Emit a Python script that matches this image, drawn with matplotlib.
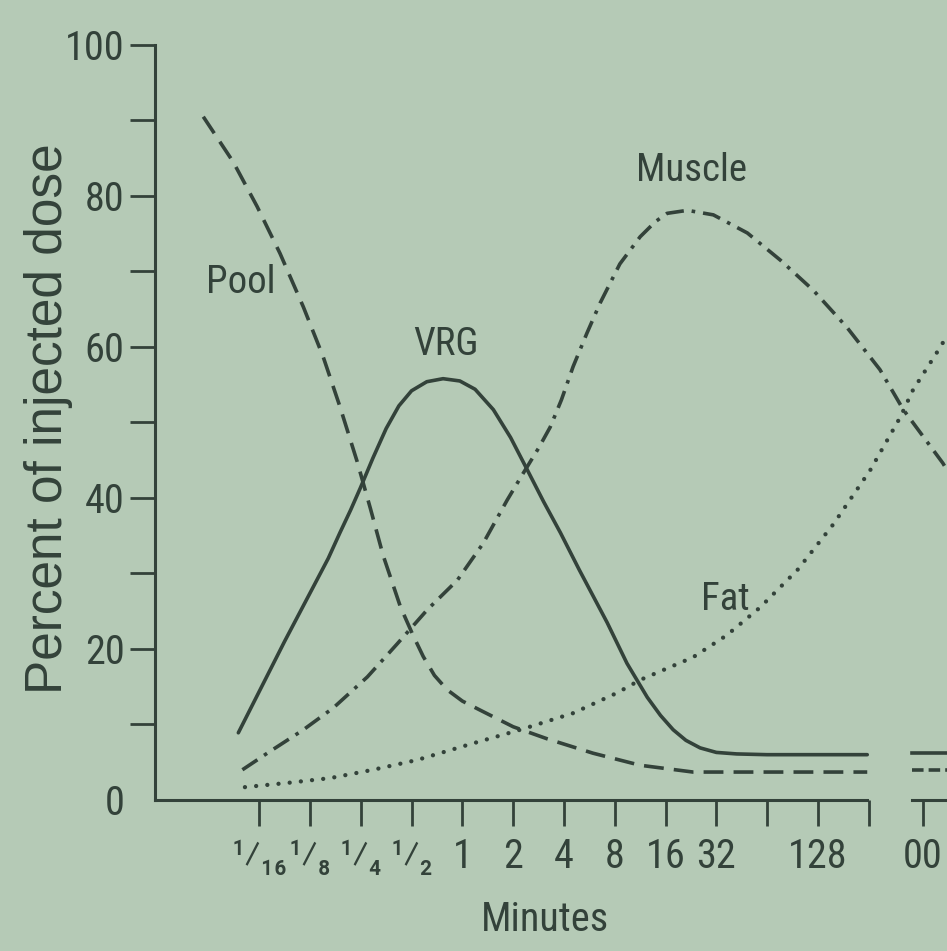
import matplotlib
matplotlib.use('Agg')
import matplotlib.pyplot as plt
import numpy as np

# condensed face if one is around, otherwise the Arial-like one
plt.rcParams['font.family'] = ['Liberation Sans Narrow', 'Roboto Condensed', 'Liberation Sans', 'DejaVu Sans']

bg = '#b5cab6'
ink = '#33423a'

# x positions are log2(minutes); 9.07 is the "00" slot after the axis break
tick_pos = [-4, -3, -2, -1, 0, 1, 2, 3, 4, 5, 6, 7, 8, 9.07]
tick_lbl = ['\u00b9\u2044\u2081\u2086', '\u00b9\u2044\u2088', '\u00b9\u2044\u2084', '\u00b9\u2044\u2082',
            '1', '2', '4', '8', '16', '32', '', '128', '', '00']
y_major = [0, 20, 40, 60, 80, 100]
y_minor = [10, 30, 50, 70, 90]

# Pool (dashed)
pool_x = [-5.1, -4.51, -4.04, -3.59, -3.13, -2.74, -2.41, -2.07, -1.81, -1.56, -1.22, -0.97,
          -0.77, -0.55, -0.3, 0.0, 0.35, 1.0, 1.67, 2.57, 3.5, 4.54, 7.97]
pool_y = [90.5, 84.5, 78.6, 72.4, 65.3, 58.7, 52.1, 44.8, 38.6, 32.4, 25.6, 21.8,
          19.0, 16.5, 14.6, 13.1, 11.9, 9.7, 8.1, 6.2, 4.6, 3.7, 3.7]
pool_inf_x = [8.85, 9.6]
pool_inf_y = [4.0, 4.0]

# VRG (solid)
vrg_x = [-4.41, -3.5, -2.64, -2.41, -2.2, -2.01, -1.76, -1.5, -1.25, -1.0, -0.7, -0.38, -0.05, 0.25,
         0.61, 0.95, 1.28, 1.6, 1.93, 2.3, 2.85, 3.24, 3.64, 3.9, 4.15, 4.4, 4.68, 5.0, 5.4, 6.0, 7.97]
vrg_y = [8.9, 21.0, 32.0, 35.4, 38.4, 41.3, 45.3, 49.2, 52.2, 54.2, 55.4, 55.8, 55.5, 54.4,
         51.7, 48.0, 43.7, 39.5, 35.4, 30.5, 23.5, 18.1, 13.6, 11.2, 9.3, 7.9, 6.9, 6.3, 6.1, 6.0, 6.0]
vrg_inf_x = [8.85, 9.6]
vrg_inf_y = [6.2, 6.2]

# Muscle (dash-dot), runs straight through the break
mus_x = [-4.33, -3.84, -3.13, -2.54, -1.87, -1.28, -0.69, -0.1, 0.41, 0.88, 1.2, 1.5, 1.73,
         1.95, 2.18, 2.45, 2.71, 3.1, 3.5, 3.8, 4.03, 4.43, 4.94, 5.61, 6.26, 6.91, 7.57,
         8.22, 8.68, 9.46, 9.6]
mus_y = [4.0, 6.2, 9.3, 12.2, 16.3, 20.7, 25.2, 29.1, 34.0, 39.7, 43.3, 46.6, 49.4,
         53.0, 57.4, 61.8, 65.8, 71.0, 74.6, 76.6, 77.7, 78.1, 77.5, 75.1, 71.5, 67.5, 62.6,
         57.0, 51.7, 44.6, 43.0]

# Fat (dotted)
fat_x = [-4.28, -3.39, -2.6, -1.76, -0.89, 0.21, 1.14, 2.18, 3.05, 3.5, 4.54, 5.2,
         5.86, 6.6, 7.3, 8.03, 8.62, 8.87, 9.41, 9.6]
fat_y = [1.7, 2.3, 2.9, 4.0, 5.3, 7.5, 9.3, 11.5, 14.2, 15.9, 18.9, 21.8,
         25.5, 30.5, 36.5, 43.7, 50.7, 54.3, 60.0, 62.2]

fig = plt.figure(figsize=(9.47, 9.51), dpi=100, facecolor=bg)
ax = fig.add_axes([0.1637, 0.1588, 0.8363, 0.7939], facecolor=bg)
ax.set_xlim(-6.05, 9.54)
ax.set_ylim(0, 100)

lw = 2.6
ax.plot(pool_x, pool_y, color=ink, lw=lw, ls=(0, (5.5, 2.8)), clip_on=False)
ax.plot(pool_inf_x, pool_inf_y, color=ink, lw=lw, ls=(0, (3.2, 1.4)), clip_on=False)
ax.plot(vrg_x, vrg_y, color=ink, lw=lw, solid_capstyle='round', solid_joinstyle='round', clip_on=False)
ax.plot(vrg_inf_x, vrg_inf_y, color=ink, lw=lw, clip_on=False)
ax.plot(mus_x, mus_y, color=ink, lw=lw, ls=(0, (5, 2.2, 1, 2.2)), clip_on=False)
ax.plot(fat_x, fat_y, color=ink, lw=3.1, ls=(0, (0.01, 2.6)), dash_capstyle='round', clip_on=False)

# axes frame
for s in ['top', 'right']:
    ax.spines[s].set_visible(False)
ax.spines['left'].set_color(ink)
ax.spines['left'].set_linewidth(2.2)
ax.spines['bottom'].set_color(ink)
ax.spines['bottom'].set_linewidth(2.2)
ax.spines['bottom'].set_bounds(-6.05, 7.97)
# short axis piece after the break
ax.axhline(0, xmin=(8.85 + 6.05) / 15.59, xmax=1.0, color=ink, lw=2.2, clip_on=False)

ax.set_xticks(tick_pos)
ax.set_xticklabels(tick_lbl)
ax.set_yticks(y_major)
ax.set_yticklabels([str(v) for v in y_major])
ax.set_yticks(y_minor, minor=True)
ax.tick_params(axis='x', direction='out', length=19, width=2, color=ink,
               labelcolor=ink, labelsize=29, pad=8)
ax.tick_params(axis='y', which='both', direction='out', length=18, width=2, color=ink,
               labelcolor=ink, labelsize=29, pad=4)
ax.yaxis.get_major_ticks()[0].tick1line.set_visible(False)

ax.set_ylabel('Percent of injected dose', fontsize=37, color=ink, va='center',
              family=['Liberation Sans', 'DejaVu Sans'])
ax.yaxis.set_label_coords(-0.135, 0.505)
ax.set_xlabel('Minutes', fontsize=29, color=ink, va='center')
ax.xaxis.set_label_coords(0.492, -0.158)

txt = dict(fontsize=28, color=ink, ha='center', va='center')
ax.text(-4.37, 68.5, 'Pool', **txt)
ax.text(-0.32, 60.3, 'VRG', **txt)
ax.text(4.52, 83.4, 'Muscle', **txt)
ax.text(5.17, 26.5, 'Fat', **txt)

fig.savefig('out.png', dpi=100, facecolor=bg)
